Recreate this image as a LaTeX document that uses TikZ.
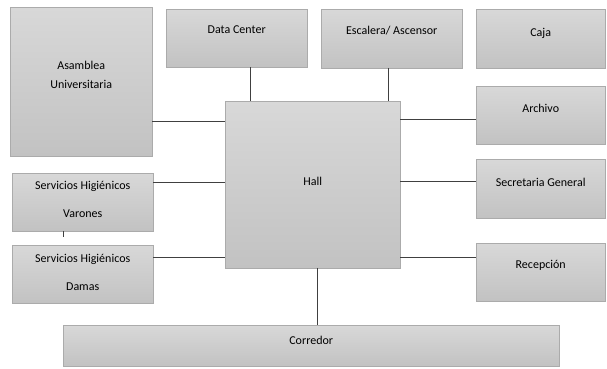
\documentclass[tikz,border=0pt]{standalone}
\usepackage{fontspec}
\setmainfont{Carlito}
\usetikzlibrary{positioning}

\definecolor{roomtop}{HTML}{D8D8D8}
\definecolor{roombot}{HTML}{C2C2C2}
\definecolor{roomline}{HTML}{ABABAB}

\begin{document}
\begin{tikzpicture}[
    x=1pt, y=-1pt,
    room/.style={rectangle, draw=roomline, top color=roomtop, bottom color=roombot, anchor=north west, inner sep=0pt},
    tag/.style={font=\fontsize{12}{19}\selectfont, align=center, inner sep=1pt},
    tagwide/.style={font=\fontsize{12}{28}\selectfont, align=center, inner sep=1pt},
    link/.style={draw=black!75, line width=0.7pt}
]
\useasboundingbox (0,0) rectangle (607,368);
% rooms
\node (asam) [room, minimum width=142pt, minimum height=149pt] at (10,7) {};
\node (dc) [room, minimum width=141pt, minimum height=58pt] at (166,9) {};
\node (esc) [room, minimum width=141pt, minimum height=59pt] at (321,9) {};
\node (caja) [room, minimum width=129pt, minimum height=59pt] at (476,9) {};
\node (hall) [room, minimum width=175pt, minimum height=167pt] at (225,101) {};
\node (arch) [room, minimum width=129pt, minimum height=58pt] at (476,86) {};
\node (secr) [room, minimum width=129pt, minimum height=59pt] at (476,159) {};
\node (rec) [room, minimum width=129pt, minimum height=58pt] at (476,243) {};
\node (shv) [room, minimum width=141pt, minimum height=58pt] at (12,173) {};
\node (shd) [room, minimum width=141pt, minimum height=58pt] at (12,245) {};
\node (corr) [room, minimum width=496pt, minimum height=41pt] at (63,325) {};
% texts
\node (asam-t) [tag] at (asam.center |- 0,75) {Asamblea\\Universitaria};
\node (dc-t) [tag] at (dc.center |- 0,30) {Data Center};
\node (esc-t) [tag] at (esc.center |- 0,31) {Escalera/ Ascensor};
\node (caja-t) [tag] at (caja.center |- 0,33) {Caja};
\node (arch-t) [tag] at (arch.center |- 0,108) {Archivo};
\node (hall-t) [tag] at (hall.center |- 0,181) {Hall};
\node (secr-t) [tag] at (secr.center |- 0,182) {Secretaria General};
\node (rec-t) [tag] at (rec.center |- 0,265) {Recepción};
\node (shv-t) [tagwide] at (shv.center |- 0,199) {Servicios Higiénicos\\Varones};
\node (shd-t) [tagwide] at (shd.center |- 0,272) {Servicios Higiénicos\\Damas};
\node (corr-t) [tag] at (corr.center |- 0,340) {Corredor};
% connectors
\draw[link] (dc.south -| 250,0) -- (hall.north -| 250,0);
\draw[link] (esc.south -| 388,0) -- (hall.north -| 388,0);
\draw[link] (asam.east |- 0,121) -- (hall.west |- 0,121);
\draw[link] (shv.east |- 0,182) -- (hall.west |- 0,182);
\draw[link] (shd.east |- 0,257) -- (hall.west |- 0,257);
\draw[link] (hall.east |- 0,119) -- (arch.west |- 0,119);
\draw[link] (hall.east |- 0,181) -- (secr.west |- 0,181);
\draw[link] (hall.east |- 0,257) -- (rec.west |- 0,257);
\draw[link] (hall.south -| 317,0) -- (corr.north -| 317,0);
\draw[link, shorten >=8pt] (shv.south -| 63,0) -- (shd.north -| 63,0);
\end{tikzpicture}
\end{document}
